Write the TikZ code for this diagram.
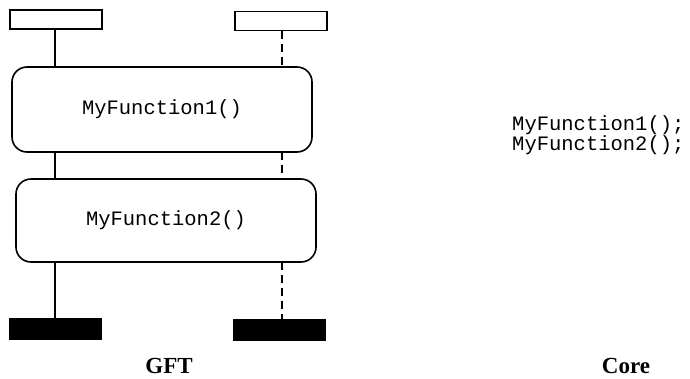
\documentclass[tikz,border=0pt]{standalone}
\usepackage{fontspec}
\setmainfont{Liberation Serif}
\newfontfamily\codefont{Liberation Mono}
\begin{document}
\begin{tikzpicture}[x=1pt,y=-1pt,
  inst/.style={draw,line width=1.6pt,minimum width=92pt,minimum height=19pt,inner sep=0pt},
  endbar/.style={fill=black,draw=black,minimum width=92pt,minimum height=21pt,inner sep=0pt},
  actbox/.style={draw,line width=1.6pt,rounded corners=15pt,minimum width=300pt,inner sep=0pt,font=\codefont\fontsize{20.5}{17}\selectfont},
  life/.style={line width=1.6pt},
  dlife/.style={line width=1.6pt,dash pattern=on 8pt off 5pt},
  lbl/.style={font=\bfseries\fontsize{23}{24}\selectfont,inner sep=0pt,anchor=base}]
\useasboundingbox (0,0) rectangle (690,378);
\node[inst] (i1) at (56,19.5) {};
\node[inst] (i2) at (281,21) {};
\node[actbox,minimum height=85pt] (f1) at (162,109.5) {MyFunction1()};
\node[actbox,minimum height=83pt] (f2) at (166,220.5) {MyFunction2()};
\node[endbar] (e1) at (55,328.5) {};
\node[endbar] (e2) at (279.5,329.5) {};
\coordinate (a1) at (55,29);
\coordinate (a2) at (55,67);
\coordinate (a3) at (55,152);
\coordinate (a4) at (55,179);
\coordinate (a5) at (55,262);
\coordinate (b1) at (282,31);
\coordinate (b2) at (282,67);
\coordinate (b3) at (282,152);
\coordinate (b4) at (282,179);
\coordinate (b5) at (282,262);
\draw[life] (a1) -- (a2);
\draw[life] (a3) -- (a4);
\draw[life] (a5) -- (e1.north -| a5);
\draw[dlife] (b1) -- (b2);
\draw[dlife] (b3) -- (b4);
\draw[dlife] (b5) -- (e2.north -| b5);
\node[font=\codefont\fontsize{20.5}{17}\selectfont,anchor=north west,align=left,inner sep=0pt] (core) at (512,115) {MyFunction1();\\MyFunction2();};
\node[lbl] (gft) at (169,373) {GFT};
\node[lbl] (corel) at (626,373) {Core};
\end{tikzpicture}
\end{document}
